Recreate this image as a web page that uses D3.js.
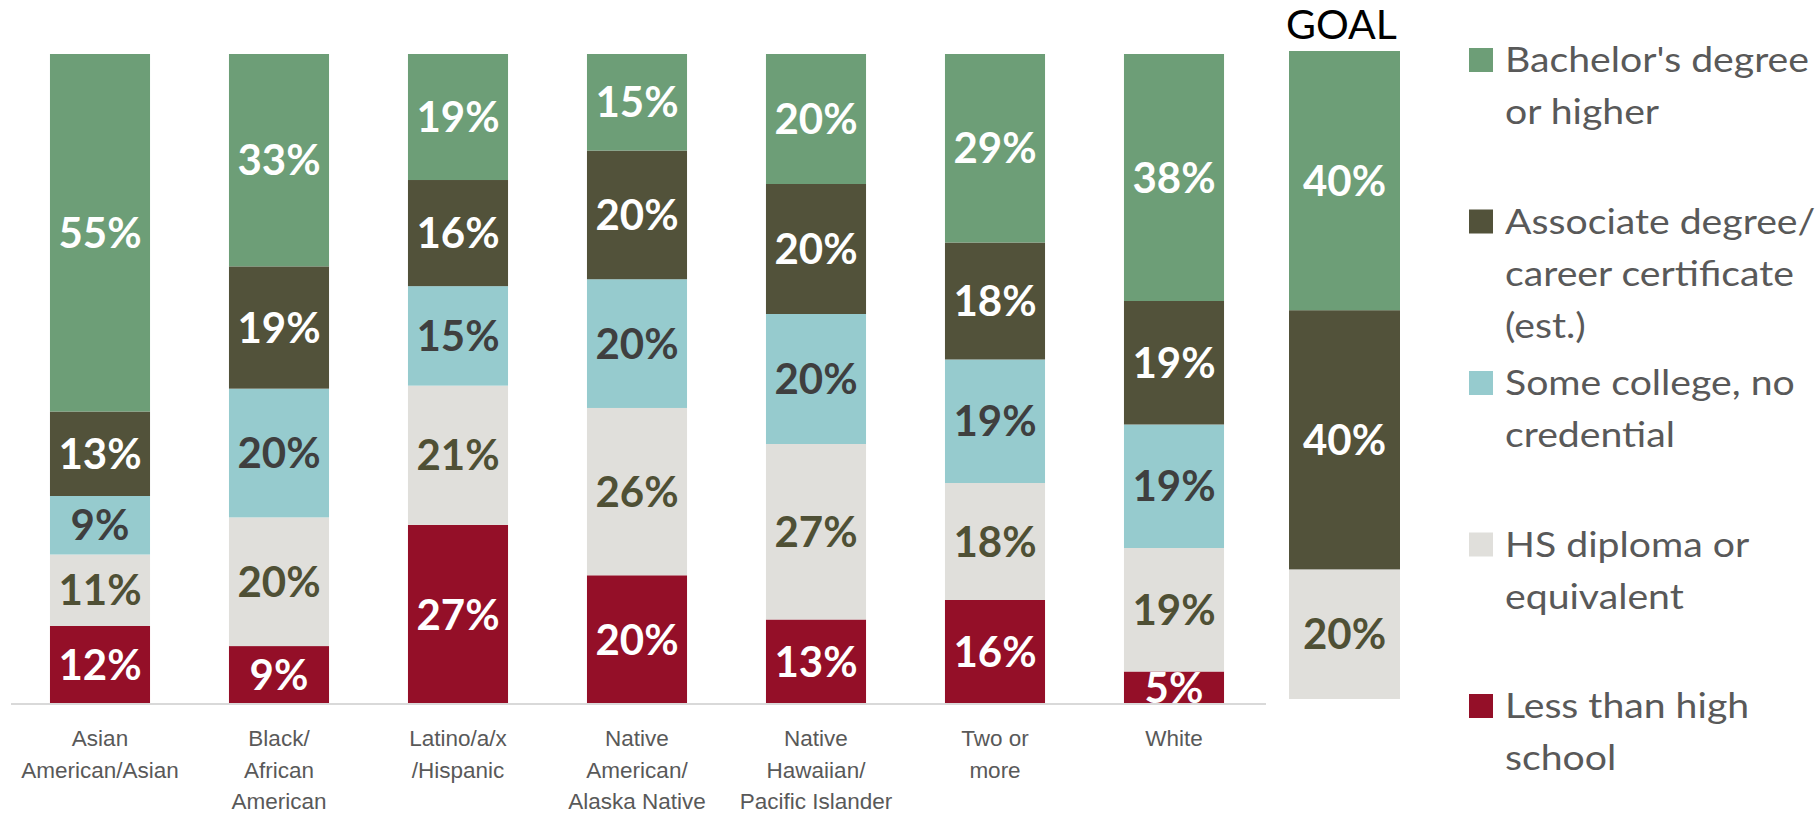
<!DOCTYPE html>
<html>
<head>
<meta charset="utf-8">
<script src="https://cdn.jsdelivr.net/npm/d3@7"></script>
<style>
  html, body { margin: 0; padding: 0; background: #ffffff; }
  svg { display: block; font-family: Lato, "Open Sans", sans-serif; }
</style>
</head>
<body>
<svg id="chart" width="1818" height="816"></svg>
<script>
// Educational attainment by race/ethnicity, with the attainment goal bar
const categories = [
  "Asian\nAmerican/Asian",
  "Black/\nAfrican\nAmerican",
  "Latino/a/x\n/Hispanic",
  "Native\nAmerican/\nAlaska Native",
  "Native\nHawaiian/\nPacific Islander",
  "Two or\nmore",
  "White"
];

// Series, listed bottom to top of each stack
const seriesKeys = ["lessThanHS", "hsDiploma", "someCollege", "associate", "bachelor"];
const seriesNames = {
  bachelor: "Bachelor's degree\nor higher",
  associate: "Associate degree/\ncareer certificate\n(est.)",
  someCollege: "Some college, no\ncredential",
  hsDiploma: "HS diploma or\nequivalent",
  lessThanHS: "Less than high\nschool"
};
const legendOrder = ["bachelor", "associate", "someCollege", "hsDiploma", "lessThanHS"];

const lessThanHS  = [12, 9, 27, 20, 13, 16, 5];
const hsDiploma   = [11, 20, 21, 26, 27, 18, 19];
const someCollege = [9, 20, 15, 20, 20, 19, 19];
const associate   = [13, 19, 16, 20, 20, 18, 19];
const bachelor    = [55, 33, 19, 15, 20, 29, 38];

// Goal bar
const goalLabel = "GOAL";
const goalLessThanHS = 0;
const goalHsDiploma = 20;
const goalSomeCollege = 0;
const goalAssociate = 40;
const goalBachelor = 40;

const colors = {
  bachelor: "#6d9e77",
  associate: "#52523a",
  someCollege: "#96cbce",
  hsDiploma: "#e0dfdb",
  lessThanHS: "#940f28"
};
const labelColors = {
  bachelor: "#ffffff",
  associate: "#ffffff",
  someCollege: "#3f3f3f",
  hsDiploma: "#4f5035",
  lessThanHS: "#ffffff"
};

const seriesValues = { lessThanHS, hsDiploma, someCollege, associate, bachelor };
const rows = categories.map((c, i) => {
  const r = { category: c };
  seriesKeys.forEach(k => { r[k] = seriesValues[k][i]; });
  return r;
});
const goalRow = {
  category: goalLabel,
  lessThanHS: goalLessThanHS, hsDiploma: goalHsDiploma, someCollege: goalSomeCollege,
  associate: goalAssociate, bachelor: goalBachelor
};

const svg = d3.select("#chart");

// Each bar is shown as a share of its own total (100% stacked)
const stack = d3.stack().keys(seriesKeys).offset(d3.stackOffsetExpand);
const layers = stack(rows);
const goalLayers = stack([goalRow]);

const x = d3.scaleBand()
  .domain(categories)
  .range([10.5, 1263.5])
  .paddingInner(0.441)
  .paddingOuter(0.2205);
const y = d3.scaleLinear().domain([0, 1]).range([704, 54]);

const xGoal = d3.scaleBand().domain([goalLabel]).range([1289, 1400]).padding(0);
const yGoal = d3.scaleLinear().domain([0, 1]).range([699, 51]);

// Stacked segments
const layerG = svg.append("g").selectAll("g")
  .data(layers).join("g")
  .attr("fill", d => colors[d.key]);
layerG.selectAll("rect")
  .data(d => d.map(p => ({ key: d.key, p })))
  .join("rect")
  .attr("x", d => x(d.p.data.category))
  .attr("width", x.bandwidth())
  .attr("y", d => y(d.p[1]))
  .attr("height", d => y(d.p[0]) - y(d.p[1]));

// Value labels
svg.append("g").selectAll("g")
  .data(layers).join("g")
  .selectAll("text")
  .data(d => d.map(p => ({ key: d.key, p })))
  .join("text")
  .attr("x", d => x(d.p.data.category) + x.bandwidth() / 2)
  .attr("y", d => (y(d.p[0]) + y(d.p[1])) / 2)
  .attr("dy", "0.36em")
  .attr("text-anchor", "middle")
  .attr("font-size", 42)
  .attr("font-weight", 700)
  .attr("fill", d => labelColors[d.key])
  .text(d => d.p.data[d.key] + "%");

// Goal bar
const goalSegs = goalLayers.map(l => ({ key: l.key, p: l[0] })).filter(d => d.p.data[d.key] > 0);
svg.append("g").selectAll("rect")
  .data(goalSegs).join("rect")
  .attr("x", xGoal(goalLabel))
  .attr("width", xGoal.bandwidth())
  .attr("y", d => yGoal(d.p[1]))
  .attr("height", d => yGoal(d.p[0]) - yGoal(d.p[1]))
  .attr("fill", d => colors[d.key]);
svg.append("g").selectAll("text")
  .data(goalSegs).join("text")
  .attr("x", xGoal(goalLabel) + xGoal.bandwidth() / 2)
  .attr("y", d => (yGoal(d.p[0]) + yGoal(d.p[1])) / 2)
  .attr("dy", "0.36em")
  .attr("text-anchor", "middle")
  .attr("font-size", 42)
  .attr("font-weight", 700)
  .attr("fill", d => labelColors[d.key])
  .text(d => d.p.data[d.key] + "%");
svg.append("text")
  .attr("x", xGoal(goalLabel) + xGoal.bandwidth() / 2 - 3)
  .attr("y", 39)
  .attr("text-anchor", "middle")
  .attr("font-size", 41)
  .attr("fill", "#000000")
  .text(goalLabel);

// Category axis
const xAxis = svg.append("g")
  .attr("transform", "translate(0,704)")
  .call(d3.axisBottom(x).tickSize(0).tickFormat(""));
xAxis.select(".domain").attr("d", "M11,0H1266").attr("stroke", "#d9d9d9").attr("stroke-width", 2);
xAxis.selectAll(".tick text").remove();
xAxis.selectAll(".tick").each(function(d) {
  const t = d3.select(this).append("text")
    .attr("fill", "#595959")
    .attr("font-size", 22.5)
    .attr("text-anchor", "middle")
    .attr("y", 42);
  d.split("\n").forEach((line, i) => {
    t.append("tspan").attr("x", 0).attr("dy", i === 0 ? 0 : 31.5).text(line);
  });
});

// Legend
const legend = svg.append("g").attr("transform", "translate(1469,48)");
const legendItem = legend.selectAll("g")
  .data(legendOrder).join("g")
  .attr("transform", (d, i) => `translate(0,${i * 161.5})`);
legendItem.append("rect")
  .attr("width", 24).attr("height", 24)
  .attr("fill", d => colors[d]);
legendItem.append("text")
  .attr("transform", "translate(36,24) scale(1.12,1)")
  .attr("font-size", 35)
  .attr("fill", "#595959")
  .each(function(d) {
    seriesNames[d].split("\n").forEach((line, i) => {
      d3.select(this).append("tspan").attr("x", 0).attr("dy", i === 0 ? 0 : 52.5).text(line);
    });
  });
</script>
</body>
</html>
